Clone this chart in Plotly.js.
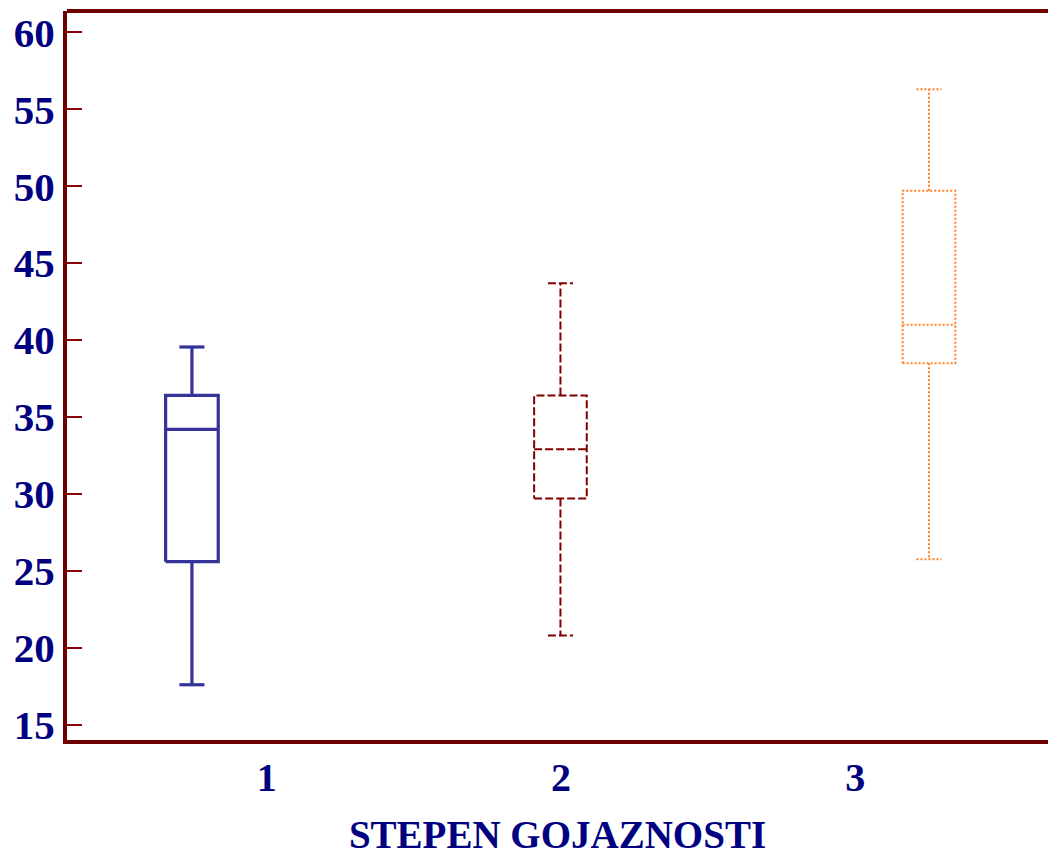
<!DOCTYPE html>
<html>
<head>
<meta charset="utf-8">
<script src="https://cdn.plot.ly/plotly-3.0.1.min.js"></script>
<style>html,body{margin:0;padding:0;background:#fff;}#chart{width:1048px;height:858px;}</style>
</head>
<body>
<div id="chart"></div>
<script>
// Data
const categories = [1, 2, 3];
const tickLabels = ['1', '2', '3'];
const lowerWhisker = [17.6, 20.8, 25.75];
const q1Values = [25.6, 29.7, 38.5];
const medianValues = [34.2, 32.9, 41.0];
const q3Values = [36.4, 36.4, 49.7];
const upperWhisker = [39.55, 43.7, 56.3];
const yTickValues = [15, 20, 25, 30, 35, 40, 45, 50, 55, 60];

// Styles (not data)
const boxColors = ['#333399', '#800000', '#ff7f27'];
const boxDash = ['solid', '8px,3px', '2px,2px'];
const boxWidths = [3.2, 2, 2];
const halfBox = 0.0714;
const halfCap = 0.034;

const traces = categories.map((c, i) => {
  const x = [], y = [];
  x.push(c - halfBox, c + halfBox, c + halfBox, c - halfBox, c - halfBox, null);
  y.push(q1Values[i], q1Values[i], q3Values[i], q3Values[i], q1Values[i], null);
  x.push(c - halfBox, c + halfBox, null);
  y.push(medianValues[i], medianValues[i], null);
  x.push(c, c, null, c - halfCap, c + halfCap, null);
  y.push(q3Values[i], upperWhisker[i], null, upperWhisker[i], upperWhisker[i], null);
  x.push(c, c, null, c - halfCap, c + halfCap);
  y.push(q1Values[i], lowerWhisker[i], null, lowerWhisker[i], lowerWhisker[i]);
  return {
    type: 'scatter', mode: 'lines', x: x, y: y, name: tickLabels[i],
    xaxis: 'x', yaxis: 'y',
    line: {color: boxColors[i], width: boxWidths[i], dash: boxDash[i]},
    hoverinfo: 'skip', showlegend: false, connectgaps: false
  };
});

// invisible trace to activate the label axis
traces.push({
  type: 'scatter', mode: 'markers', x: categories, y: medianValues,
  xaxis: 'x2', yaxis: 'y', marker: {opacity: 0}, hoverinfo: 'skip', showlegend: false
});

const fontFam = '"Liberation Serif", "Times New Roman", serif';
const layout = {
  width: 1048, height: 858,
  margin: {l: 67, r: 0, t: 11, b: 118},
  paper_bgcolor: '#ffffff', plot_bgcolor: '#ffffff',
  showlegend: false,
  xaxis: {
    range: [0.661, 3.323],
    showticklabels: false,
    showgrid: false, zeroline: false,
    showline: true, linecolor: '#6e0000', linewidth: 4,
    ticks: ''
  },
  xaxis2: {
    overlaying: 'x', anchor: 'y', side: 'bottom',
    range: [0.3214, 3.6548],
    tickvals: categories, ticktext: tickLabels,
    showgrid: false, zeroline: false, showline: false, ticks: '',
    ticklabelstandoff: 10,
    tickfont: {family: fontFam, size: 40, color: '#000080', weight: 'bold'},
    title: {text: 'STEPEN GOJAZNOSTI', font: {family: fontFam, size: 39, color: '#000080', weight: 'bold'}, standoff: 21}
  },
  yaxis: {
    range: [14.01, 61.385],
    tickvals: yTickValues,
    showgrid: false, zeroline: false,
    showline: true, linecolor: '#6e0000', linewidth: 4,
    ticks: 'inside', ticklen: 15, tickwidth: 2, tickcolor: '#8b0000',
    tickfont: {family: fontFam, size: 41, color: '#000080', weight: 'bold'}
  },
  shapes: [{
    type: 'line', xref: 'paper', yref: 'paper', x0: 0, x1: 1.01, y0: 1, y1: 1,
    line: {color: '#6e0000', width: 4}
  }]
};

Plotly.newPlot('chart', traces, layout, {displayModeBar: false, staticPlot: true});
</script>
</body>
</html>
